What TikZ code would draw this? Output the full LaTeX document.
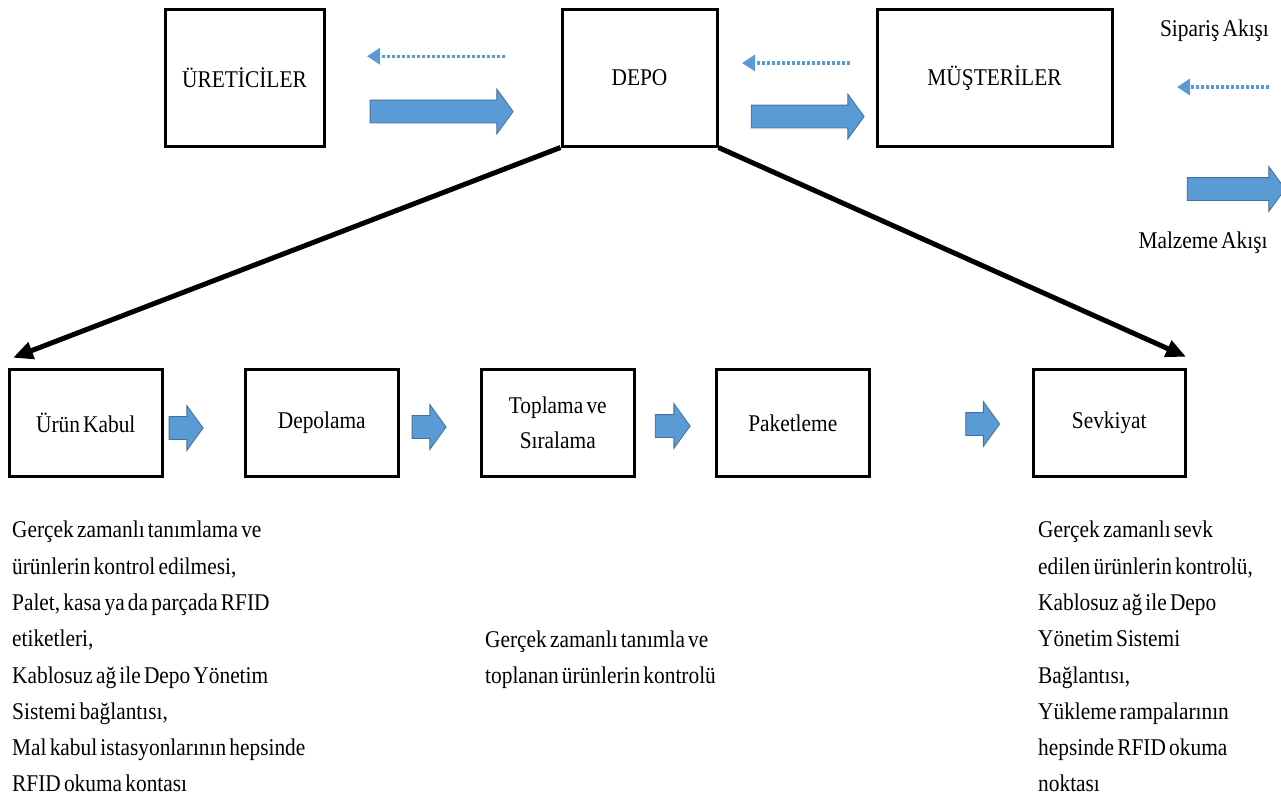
\documentclass[tikz,border=0pt]{standalone}
\usepackage{fontspec}
\setmainfont{Liberation Serif}[FakeStretch=0.89,WordSpace=0.6]
\usepackage{xcolor}
\usepackage{tikz}
\usetikzlibrary{positioning,arrows.meta,shapes.arrows}
\definecolor{mavi}{HTML}{5B9BD5}
\definecolor{koyumavi}{HTML}{41719C}

\begin{document}
\begin{tikzpicture}[x=1pt,y=-1pt,every node/.style={inner sep=0pt,font=\fontsize{24}{36.3}\selectfont},kutu/.style={draw,line width=3pt,minimum height=136.5pt,align=center},altkutu/.style={draw,line width=3pt,minimum width=152.5pt,minimum height=107.5pt,align=center},blok/.style={single arrow,draw=koyumavi,fill=mavi,line width=0.8pt,single arrow tip angle=108,minimum width=44pt,single arrow head extend=11pt,inner ysep=11pt},siparis/.style={-{Triangle[length=13pt,width=16pt]},draw=mavi,line width=3.5pt,dash pattern=on 3pt off 2pt},akis/.style={-{Triangle[length=20pt,width=17pt]},line width=5pt},aciklama/.style={align=left,anchor=north west}]
\useasboundingbox (0,0) rectangle (1281,807);
\node[kutu,minimum width=159pt] (uretici) at (244.5,77.75) {ÜRETİCİLER};
\node[kutu,minimum width=155pt] (depo) [right=235pt of uretici] {DEPO};
\node[kutu,minimum width=235pt] (musteri) [right=157pt of depo] {MÜŞTERİLER};
\node[altkutu] (kabul) at (85.75,423) {Ürün Kabul};
\node[altkutu] (depolama) [right=80.5pt of kabul] {Depolama};
\node[altkutu,font=\fontsize{24}{35}\selectfont] (toplama) [right=80.5pt of depolama] {Toplama ve\\Sıralama};
\node[altkutu] (paket) [right=79.5pt of toplama] {Paketleme};
\node[altkutu] (sevk) [right=161pt of paket] {Sevkiyat};
% malzeme akisi
\node[blok,minimum height=143pt] (m1) at (437.5,111.5) {};
\node[blok,minimum height=113pt] (m2) at (803.5,116.5) {};
\node[blok,minimum height=34pt] (a1) at (182,428) {};
\node[blok,minimum height=34pt] (a2) at (425,427) {};
\node[blok,minimum height=35pt] (a3) at (668.5,426) {};
\node[blok,minimum height=34pt] (a4) at (978.5,424) {};
% siparis akisi
\draw[siparis,shorten <=55.5pt,shorten >=41.5pt] ([yshift=21.5pt]depo.west) -- ([yshift=21.5pt]uretici.east);
\draw[siparis,shorten <=25.5pt,shorten >=23.5pt] ([yshift=14.75pt]musteri.west) -- ([yshift=14.75pt]depo.east);
\draw[akis] (depo.south west) -- ([xshift=5pt,yshift=10pt]kabul.north west);
\draw[akis] (depo.south east) -- ([xshift=-1pt,yshift=11pt]sevk.north east);
% lejant
\node (siparisyazi) at (1214.5,31) {Sipariş Akışı};
\coordinate (sbas) at (1269,87);
\coordinate (sson) at (1177,87);
\draw[siparis] (sbas) -- (sson);
\node[blok,minimum height=98pt] (lejantok) at (1232,189) {};
\node (malzemeyazi) at (1203,243) {Malzeme Akışı};
% aciklamalar
\node[aciklama] (kabulnot) at (12,521) {Gerçek zamanlı tanımlama ve\\ürünlerin kontrol edilmesi,\\Palet, kasa ya da parçada RFID\\etiketleri,\\Kablosuz ağ ile Depo Yönetim\\Sistemi bağlantısı,\\Mal kabul istasyonlarının hepsinde\\RFID okuma kontası};
\node[aciklama] (toplamanot) at (485,630.5) {Gerçek zamanlı tanımla ve\\toplanan ürünlerin kontrolü};
\node[aciklama] (sevknot) at (1038,521) {Gerçek zamanlı sevk\\edilen ürünlerin kontrolü,\\Kablosuz ağ ile Depo\\Yönetim Sistemi\\Bağlantısı,\\Yükleme rampalarının\\hepsinde RFID okuma\\noktası};
\end{tikzpicture}
\end{document}
